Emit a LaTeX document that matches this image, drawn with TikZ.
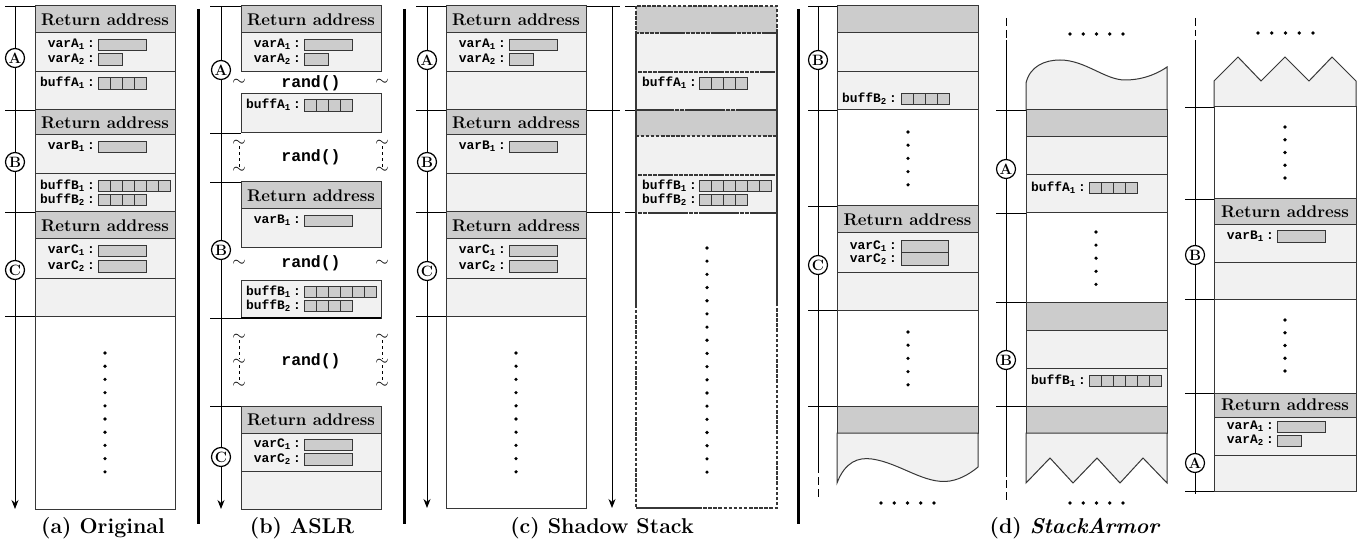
\documentclass[tikz,border=0pt]{standalone}
\usepackage{fontspec}
\newfontfamily\codefont{Liberation Mono}
\usetikzlibrary{arrows.meta}
\definecolor{hdrgray}{RGB}{204,204,204}
\definecolor{secgray}{RGB}{241,241,241}
\definecolor{edge}{RGB}{55,55,55}

\begin{document}
\begin{tikzpicture}[x=1bp,y=-1bp,
  hdr/.style={fill=hdrgray,draw=edge,line width=1bp},
  sect/.style={fill=secgray,draw=edge,line width=1bp},
  blank/.style={fill=white,draw=edge,line width=1bp},
  cellbox/.style={fill=hdrgray,draw=edge,line width=0.9bp},
  tick/.style={draw=black,line width=0.9bp},
  sepbar/.style={line width=3bp},
  shdw/.style={draw=edge,line width=1.4bp,dash pattern=on 3.5bp off 1.6bp},
  brk/.style={line width=0.9bp,dash pattern=on 8bp off 4bp},
  circ/.style={circle,draw,line width=1.2bp,fill=white,inner sep=0pt,minimum size=19bp,font=\bfseries\fontsize{15}{15}\selectfont},
  ra/.style={font=\bfseries\fontsize{17}{18}\selectfont,inner sep=0pt},
  vlbl/.style={anchor=east,inner sep=0pt,font=\codefont\bfseries\fontsize{13}{13}\selectfont},
  rnd/.style={font=\codefont\bfseries\fontsize{16.5}{17}\selectfont,inner sep=0pt},
  tld/.style={inner sep=0pt,font=\fontsize{17}{17}\selectfont},
  captxt/.style={font=\bfseries\fontsize{21.5}{22}\selectfont,inner sep=0pt}]

\useasboundingbox (0,0) rectangle (1364,542);
\fill[white] (0,0) rectangle (1364,542);

%% ---------------- (a) Original
\draw[tick] (5,6) -- (35,6);
\draw[tick] (5,110) -- (35,110);
\draw[tick] (5,212) -- (35,212);
\draw[tick] (5,316) -- (35,316);
\draw[hdr] (35,6) rectangle (175,33);
\draw[sect] (35,33) rectangle (175,72);
\draw[sect] (35,72) rectangle (175,110);
\draw[hdr] (35,110) rectangle (175,135);
\draw[sect] (35,135) rectangle (175,174);
\draw[sect] (35,174) rectangle (175,212);
\draw[hdr] (35,212) rectangle (175,239);
\draw[sect] (35,239) rectangle (175,278);
\draw[sect] (35,278) rectangle (175,316);
\draw[blank] (35,316) rectangle (175,509);
\node[ra] (a-ra1) at (105,19.5) {Return address};
\node[ra] (a-ra2) at (105,122.5) {Return address};
\node[ra] (a-ra3) at (105,225.5) {Return address};
\node[vlbl] (a-va1) at (95,44.5) {varA\textsubscript{1}\,:};
\draw[cellbox] (98,39) rectangle (146,50);
\node[vlbl] (a-va2) at (95,59) {varA\textsubscript{2}\,:};
\draw[cellbox] (98,53) rectangle (122,65);
\node[vlbl] (a-ba1) at (95,83) {buffA\textsubscript{1}\,:};
\foreach \k in {0,...,3} \draw[cellbox] (98+12*\k,77) rectangle +(12,12);
\node[vlbl] (a-vb1) at (95,146.5) {varB\textsubscript{1}\,:};
\draw[cellbox] (98,141) rectangle (146,152);
\node[vlbl] (a-bb1) at (95,186) {buffB\textsubscript{1}\,:};
\foreach \k in {0,...,5} \draw[cellbox] (98+12*\k,180) rectangle +(12,11.5);
\node[vlbl] (a-bb2) at (95,199.5) {buffB\textsubscript{2}\,:};
\foreach \k in {0,...,3} \draw[cellbox] (98+12*\k,194) rectangle +(12,11.5);
\node[vlbl] (a-vc1) at (95,250.5) {varC\textsubscript{1}\,:};
\draw[cellbox] (98,245) rectangle (146,256);
\node[vlbl] (a-vc2) at (95,266) {varC\textsubscript{2}\,:};
\draw[cellbox] (98,260) rectangle (146,272);
\foreach \k in {0,...,9} \fill (105,353+13.2*\k) circle (1.8bp);
\draw[tick,-{Stealth[length=9bp,width=7bp]}] (15,6) -- (15,509);
\node[circ] (a-A) at (15,58) {A};
\node[circ] (a-B) at (15,162) {B};
\node[circ] (a-C) at (15,270) {C};
\node[captxt] (a-cap) at (103,528) {(a) Original};

\draw[sepbar] (198,9) -- (198,524);

%% ---------------- (b) ASLR
\draw[tick] (210,6) -- (241,6);
\draw[tick] (210,133) -- (241,133);
\draw[tick] (210,182) -- (241,182);
\draw[tick] (210,318) -- (241,318);
\draw[tick] (210,406) -- (241,406);
\draw[hdr] (241,6) rectangle (381,33);
\draw[sect] (241,33) rectangle (381,72);
\draw[sect] (241,94) rectangle (381,133);
\draw[hdr] (241,182) rectangle (381,209);
\draw[sect] (241,209) rectangle (381,248);
\draw[sect] (241,280) rectangle (381,318);
\draw[line width=2bp] (241,318) -- (381,318);
\draw[hdr] (241,406) rectangle (381,433);
\draw[sect] (241,433) rectangle (381,471);
\draw[sect] (241,471) rectangle (381,509);
\node[ra] (b-ra1) at (311,19.5) {Return address};
\node[ra] (b-ra2) at (311,195.5) {Return address};
\node[ra] (b-ra3) at (311,419.5) {Return address};
\node[vlbl] (b-va1) at (301,44.5) {varA\textsubscript{1}\,:};
\draw[cellbox] (304,39) rectangle (352,50);
\node[vlbl] (b-va2) at (301,59) {varA\textsubscript{2}\,:};
\draw[cellbox] (304,53) rectangle (328,65);
\node[vlbl] (b-ba1) at (301,105) {buffA\textsubscript{1}\,:};
\foreach \k in {0,...,3} \draw[cellbox] (304+12*\k,99) rectangle +(12,12);
\node[vlbl] (b-vb1) at (301,220.5) {varB\textsubscript{1}\,:};
\draw[cellbox] (304,215) rectangle (352,226);
\node[vlbl] (b-bb1) at (301,292) {buffB\textsubscript{1}\,:};
\foreach \k in {0,...,5} \draw[cellbox] (304+12*\k,286) rectangle +(12,11.5);
\node[vlbl] (b-bb2) at (301,305.5) {buffB\textsubscript{2}\,:};
\foreach \k in {0,...,3} \draw[cellbox] (304+12*\k,300) rectangle +(12,11.5);
\node[vlbl] (b-vc1) at (301,444.5) {varC\textsubscript{1}\,:};
\draw[cellbox] (304,439) rectangle (352,450);
\node[vlbl] (b-vc2) at (301,459) {varC\textsubscript{2}\,:};
\draw[cellbox] (304,453) rectangle (352,465);
% rand() gaps
\node[rnd] (b-r1) at (311,83) {rand()};
\node[tld] (b-t1l) at (239,82) {$\sim$};
\node[tld] (b-t1r) at (382,82) {$\sim$};
\node[rnd] (b-r2) at (311,157) {rand()};
\node[tld] (b-t2l) at (239,143) {$\sim$};
\node[tld] (b-t2m) at (239,170) {$\sim$};
\node[tld] (b-t2r) at (382,143) {$\sim$};
\node[tld] (b-t2s) at (382,170) {$\sim$};
\draw[tick,dashed] (b-t2l) -- (b-t2m);
\draw[tick,dashed] (b-t2r) -- (b-t2s);
\node[rnd] (b-r3) at (311,263) {rand()};
\node[tld] (b-t3l) at (239,263) {$\sim$};
\node[tld] (b-t3r) at (382,263) {$\sim$};
\node[rnd] (b-r4) at (311,361) {rand()};
\node[tld] (b-t4l) at (239,337) {$\sim$};
\node[tld] (b-t4m) at (239,362) {$\sim$};
\node[tld] (b-t4n) at (239,385) {$\sim$};
\node[tld] (b-t4r) at (382,337) {$\sim$};
\node[tld] (b-t4s) at (382,362) {$\sim$};
\node[tld] (b-t4t) at (382,385) {$\sim$};
\draw[tick,dashed] (b-t4l) -- (b-t4m);
\draw[tick,dashed] (b-t4m) -- (b-t4n);
\draw[tick,dashed] (b-t4r) -- (b-t4s);
\draw[tick,dashed] (b-t4s) -- (b-t4t);
\draw[tick,-{Stealth[length=9bp,width=7bp]}] (221,6) -- (221,509);
\node[circ] (b-A) at (221,70) {A};
\node[circ] (b-B) at (221,250) {B};
\node[circ] (b-C) at (221,457) {C};
\node[captxt] (b-cap) at (302,528) {(b) ASLR};

\draw[sepbar] (404,9) -- (404,524);

%% ---------------- (c) Shadow Stack
\draw[tick] (416,6) -- (620,6);
\draw[tick] (416,110) -- (620,110);
\draw[tick] (416,212) -- (620,212);
\draw[tick] (625,6) -- (636,6);
\draw[tick] (625,110) -- (636,110);
\draw[tick] (625,212) -- (636,212);
\draw[tick] (416,316) -- (446,316);
\draw[hdr] (446,6) rectangle (586,33);
\draw[sect] (446,33) rectangle (586,72);
\draw[sect] (446,72) rectangle (586,110);
\draw[hdr] (446,110) rectangle (586,135);
\draw[sect] (446,135) rectangle (586,174);
\draw[sect] (446,174) rectangle (586,212);
\draw[hdr] (446,212) rectangle (586,239);
\draw[sect] (446,239) rectangle (586,278);
\draw[sect] (446,278) rectangle (586,316);
\draw[blank] (446,316) rectangle (586,508);
\node[ra] (c-ra1) at (516,19.5) {Return address};
\node[ra] (c-ra2) at (516,122.5) {Return address};
\node[ra] (c-ra3) at (516,225.5) {Return address};
\node[vlbl] (c-va1) at (506,44.5) {varA\textsubscript{1}\,:};
\draw[cellbox] (509,39) rectangle (557,50);
\node[vlbl] (c-va2) at (506,59) {varA\textsubscript{2}\,:};
\draw[cellbox] (509,53) rectangle (533,65);
\node[vlbl] (c-vb1) at (506,146.5) {varB\textsubscript{1}\,:};
\draw[cellbox] (509,141) rectangle (557,152);
\node[vlbl] (c-vc1) at (506,250.5) {varC\textsubscript{1}\,:};
\draw[cellbox] (509,245) rectangle (557,256);
\node[vlbl] (c-vc2) at (506,266) {varC\textsubscript{2}\,:};
\draw[cellbox] (509,260) rectangle (557,272);
\foreach \k in {0,...,9} \fill (516,353+13.2*\k) circle (1.8bp);
\draw[tick,-{Stealth[length=9bp,width=7bp]}] (427,6) -- (427,508);
\node[circ] (c-A) at (427,60) {A};
\node[circ] (c-B) at (427,162) {B};
\node[circ] (c-C) at (427,271) {C};
% shadow stack
\draw[tick,-{Stealth[length=9bp,width=7bp]}] (612,6) -- (612,508);
\fill[hdrgray] (636,6) rectangle (777,33);
\fill[secgray] (636,33) rectangle (777,72);
\fill[secgray] (636,72) rectangle (777,110);
\fill[hdrgray] (636,110) rectangle (777,136);
\fill[secgray] (636,136) rectangle (777,175);
\fill[secgray] (636,175) rectangle (777,213);
\draw[shdw] (636,6) rectangle (777,33);
\draw[shdw] (636,33) rectangle (777,72);
\draw[shdw] (636,72) rectangle (777,110);
\draw[shdw] (636,110) rectangle (777,136);
\draw[shdw] (636,136) rectangle (777,175);
\draw[shdw] (636,175) rectangle (777,213);
\draw[shdw] (636,213) rectangle (777,508);
\draw[draw=edge,line width=1.4bp] (636,33) -- (636,305);
\draw[draw=edge,line width=1.4bp] (777,33) -- (777,305);
\draw[draw=edge,line width=1.4bp] (636,508) -- (702,508);
\node[vlbl] (c-ba1) at (697,83) {buffA\textsubscript{1}\,:};
\foreach \k in {0,...,3} \draw[cellbox] (699+12*\k,77) rectangle +(12,12);
\node[vlbl] (c-bb1) at (697,186) {buffB\textsubscript{1}\,:};
\foreach \k in {0,...,5} \draw[cellbox] (699+12*\k,180) rectangle +(12,11.5);
\node[vlbl] (c-bb2) at (697,199.5) {buffB\textsubscript{2}\,:};
\foreach \k in {0,...,3} \draw[cellbox] (699+12*\k,194) rectangle +(12,11.5);
\foreach \k in {0,...,17} \fill (707,248+13.18*\k) circle (1.8bp);
\node[captxt] (c-cap) at (602,528) {(c) Shadow Stack};

\draw[sepbar] (798,9) -- (798,524);

%% ---------------- (d) StackArmor, first column
\draw[tick] (808,6) -- (837,6);
\draw[tick] (808,110) -- (837,110);
\draw[tick] (808,206) -- (837,206);
\draw[tick] (808,310) -- (837,310);
\draw[tick] (808,406) -- (837,406);
\draw[hdr] (837,6) rectangle (978,33);
\draw[sect] (837,33) rectangle (978,72);
\draw[sect] (837,72) rectangle (978,110);
\draw[blank] (837,110) rectangle (978,206);
\draw[hdr] (837,206) rectangle (978,233);
\draw[sect] (837,233) rectangle (978,272);
\draw[sect] (837,272) rectangle (978,310);
\draw[blank] (837,310) rectangle (978,406);
\draw[hdr] (837,406) rectangle (978,433);
\draw[sect] (837,433) -- (837,483) .. controls (845,462) and (858,457) .. (872,459)
  .. controls (900,463) and (925,485) .. (950,481)
  .. controls (962,479) and (972,472) .. (978,467) -- (978,433) -- cycle;
\node[ra] (d-ra1) at (907.5,219.5) {Return address};
\node[vlbl] (d-bb2) at (897,98.5) {buffB\textsubscript{2}\,:};
\foreach \k in {0,...,3} \draw[cellbox] (901+12*\k,93) rectangle +(12,11);
\node[vlbl] (d-vc1) at (897,246) {varC\textsubscript{1}\,:};
\draw[cellbox] (901,240) rectangle (948,252);
\node[vlbl] (d-vc2) at (897,259) {varC\textsubscript{2}\,:};
\draw[cellbox] (901,252) rectangle (948,265);
\foreach \k in {0,...,4} \fill (908,132+13.2*\k) circle (1.8bp);
\foreach \k in {0,...,4} \fill (908,332+13.2*\k) circle (1.8bp);
\foreach \k in {0,...,4} \fill (881+13.25*\k,503) circle (1.8bp);
\draw[tick] (818,6) -- (818,473);
\draw[brk] (818,477) -- (818,500);
\node[circ] (d-B1) at (818,60) {B};
\node[circ] (d-C1) at (818,265) {C};

%% second column
\draw[tick] (996,110) -- (1026,110);
\draw[tick] (996,213) -- (1026,213);
\draw[tick] (996,302) -- (1026,302);
\draw[tick] (996,406) -- (1026,406);
\draw[sect] (1026,110) -- (1026,83) .. controls (1030,66) and (1045,60) .. (1060,60)
  .. controls (1085,60) and (1105,80) .. (1125,80)
  .. controls (1145,80) and (1160,72) .. (1167,67) -- (1167,110) -- cycle;
\draw[hdr] (1026,110) rectangle (1167,137);
\draw[sect] (1026,137) rectangle (1167,175);
\draw[sect] (1026,175) rectangle (1167,213);
\draw[blank] (1026,213) rectangle (1167,302);
\draw[hdr] (1026,302) rectangle (1167,330);
\draw[sect] (1026,330) rectangle (1167,368);
\draw[sect] (1026,368) rectangle (1167,406);
\draw[hdr] (1026,406) rectangle (1167,433);
\draw[sect] (1026,433) -- (1026,483) -- (1050,458) -- (1073,483) -- (1097,458)
  -- (1120,483) -- (1143,458) -- (1167,483) -- (1167,433) -- cycle;
\node[vlbl] (d-ba1) at (1086,187.5) {buffA\textsubscript{1}\,:};
\foreach \k in {0,...,3} \draw[cellbox] (1089+12*\k,182) rectangle +(12,11);
\node[vlbl] (d-bb1) at (1086,380.5) {buffB\textsubscript{1}\,:};
\foreach \k in {0,...,5} \draw[cellbox] (1089+12*\k,375) rectangle +(12,11);
\foreach \k in {0,...,4} \fill (1096,232+13.1*\k) circle (1.8bp);
\foreach \k in {0,...,4} \fill (1070+13.25*\k,34) circle (1.8bp);
\foreach \k in {0,...,4} \fill (1070+13.25*\k,503) circle (1.8bp);
\draw[brk] (1006,18) -- (1006,38);
\draw[tick] (1006,40) -- (1006,477);
\draw[brk] (1006,480) -- (1006,500);
\node[circ] (d-A2) at (1006,169) {A};
\node[circ] (d-B2) at (1006,360) {B};

%% third column
\draw[tick] (1185,107) -- (1214,107);
\draw[tick] (1185,199) -- (1214,199);
\draw[tick] (1185,299) -- (1214,299);
\draw[tick] (1185,393) -- (1214,393);
\draw[tick] (1185,491) -- (1214,491);
\draw[sect] (1214,107) -- (1214,81) -- (1238,57) -- (1261,81) -- (1285,57)
  -- (1309,81) -- (1332,57) -- (1356,81) -- (1356,107) -- cycle;
\draw[blank] (1214,107) rectangle (1356,199);
\draw[hdr] (1214,199) rectangle (1356,225);
\draw[sect] (1214,225) rectangle (1356,262);
\draw[sect] (1214,262) rectangle (1356,299);
\draw[blank] (1214,299) rectangle (1356,393);
\draw[hdr] (1214,393) rectangle (1356,417);
\draw[sect] (1214,417) rectangle (1356,455);
\draw[sect] (1214,455) rectangle (1356,491);
\node[ra] (d-ra2) at (1285,212) {Return address};
\node[ra] (d-ra3) at (1285,405) {Return address};
\node[vlbl] (d-vb1) at (1274,236) {varB\textsubscript{1}\,:};
\draw[cellbox] (1277,230) rectangle (1325,242);
\node[vlbl] (d-va1) at (1274,426.5) {varA\textsubscript{1}\,:};
\draw[cellbox] (1277,421) rectangle (1325,432);
\node[vlbl] (d-va2) at (1274,440.5) {varA\textsubscript{2}\,:};
\draw[cellbox] (1277,435) rectangle (1301,446);
\foreach \k in {0,...,4} \fill (1285,127+12.75*\k) circle (1.8bp);
\foreach \k in {0,...,4} \fill (1285,320+12.75*\k) circle (1.8bp);
\foreach \k in {0,...,4} \fill (1258+13.75*\k,33) circle (1.8bp);
\draw[brk] (1195,18) -- (1195,36);
\draw[tick] (1195,40) -- (1195,494);
\node[circ] (d-B3) at (1195,255) {B};
\node[circ] (d-A3) at (1195,463) {A};
\node[captxt] (d-cap) at (1075,528) {(d) \textit{StackArmor}};

\end{tikzpicture}
\end{document}
